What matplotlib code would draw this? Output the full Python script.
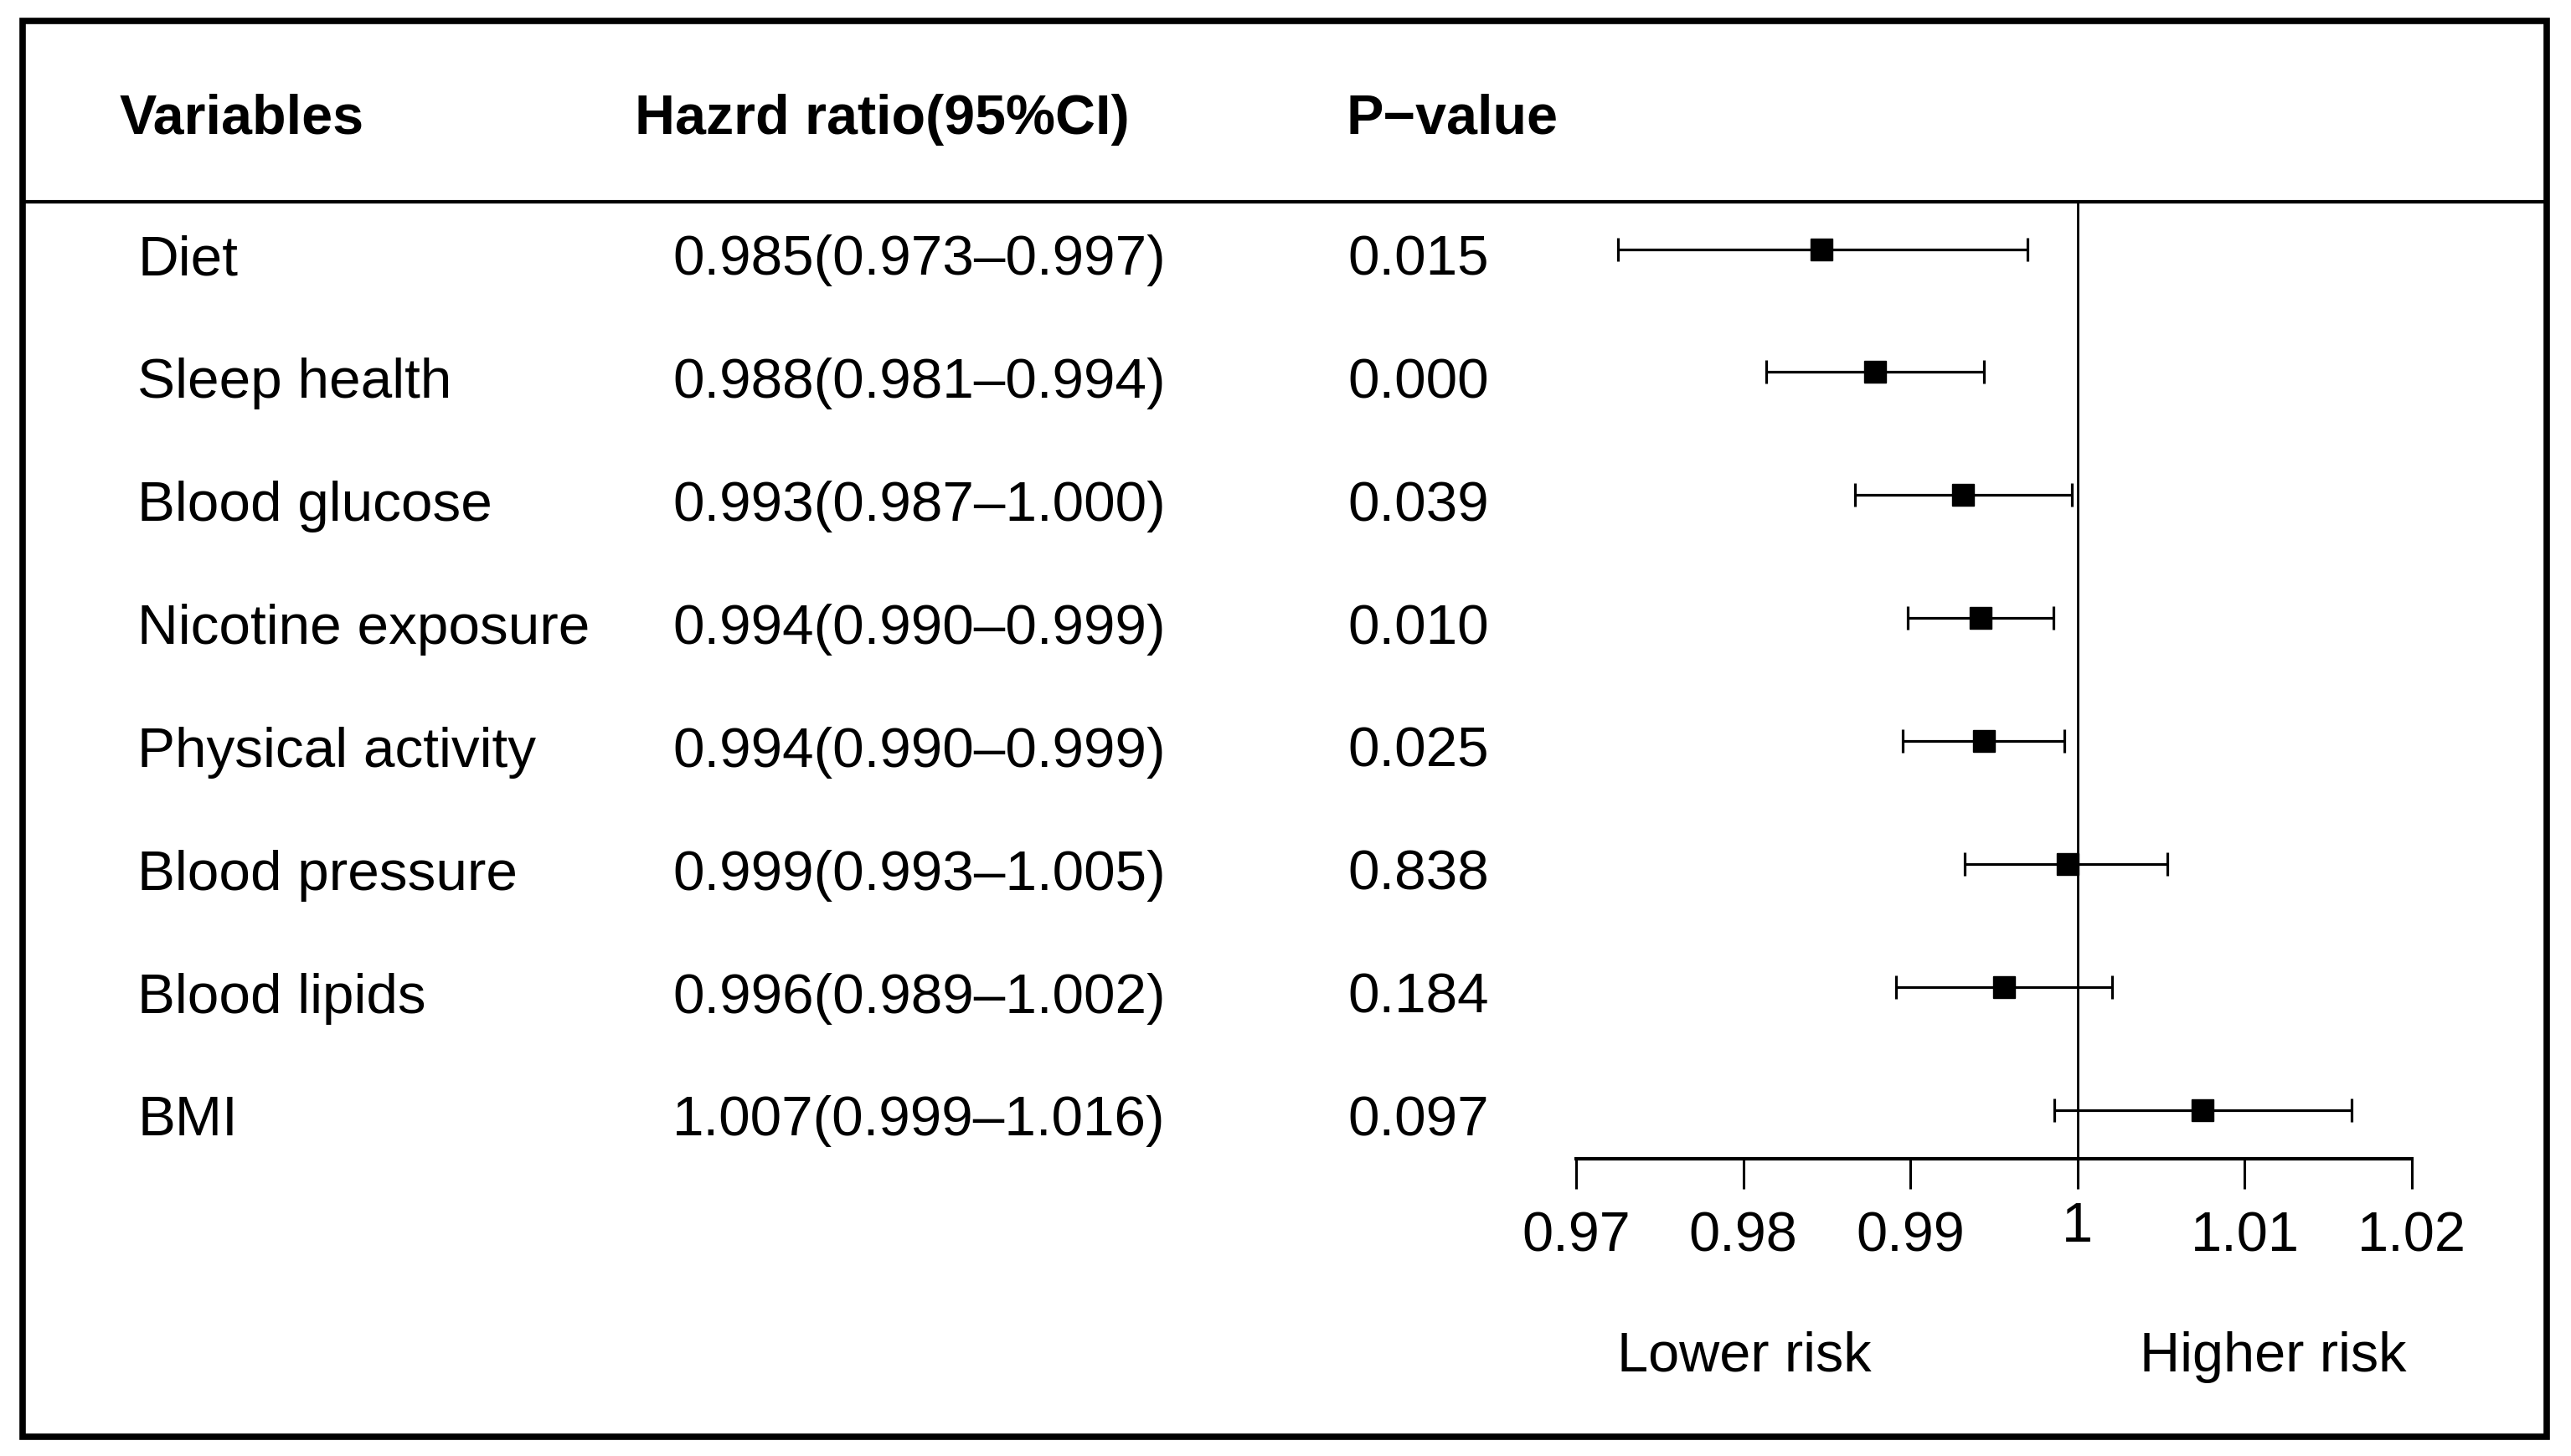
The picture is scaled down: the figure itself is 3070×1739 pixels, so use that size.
import matplotlib
matplotlib.use("Agg")
import matplotlib.pyplot as plt
import matplotlib.transforms as mtransforms
from matplotlib.lines import Line2D
from matplotlib.patches import Rectangle

plt.rcParams["font.family"] = ["Liberation Sans", "DejaVu Sans"]

# Cox regression results for each LE8 component
variables = ["Diet", "Sleep health", "Blood glucose", "Nicotine exposure",
             "Physical activity", "Blood pressure", "Blood lipids", "BMI"]
hr_text = ["0.985(0.973\u20130.997)", "0.988(0.981\u20130.994)", "0.993(0.987\u20131.000)",
           "0.994(0.990\u20130.999)", "0.994(0.990\u20130.999)", "0.999(0.993\u20131.005)",
           "0.996(0.989\u20131.002)", "1.007(0.999\u20131.016)"]
p_values = ["0.015", "0.000", "0.039", "0.010", "0.025", "0.838", "0.184", "0.097"]
# plotted (unrounded) estimates
hr = [0.98469, 0.98789, 0.99316, 0.99420, 0.99440, 0.99941, 0.99559, 1.00745]
ci_low = [0.97248, 0.98135, 0.98667, 0.98985, 0.98955, 0.99324, 0.98912, 0.99863]
ci_high = [0.99702, 0.99440, 0.99966, 0.99854, 0.99923, 1.00539, 1.00206, 1.01637]
ticks = [0.97, 0.98, 0.99, 1.00, 1.01, 1.02]
tick_labels = ["0.97", "0.98", "0.99", "1", "1.01", "1.02"]

W, H = 3070, 1739
fig = plt.figure(figsize=(W / 100, H / 100), dpi=100)

# forest axes: x 0.97..1.02 between px 1882 and 2880, y from separator to axis line
ax = fig.add_axes([1882 / W, 1 - 1384 / H, (2880 - 1882) / W, (1384 - 240) / H])
n = len(variables)
ypos = [n - i for i in range(n)]

xerr = [[h - lo for h, lo in zip(hr, ci_low)], [hi - h for h, hi in zip(hr, ci_high)]]
ax.errorbar(hr, ypos, xerr=xerr, fmt="s", color="black", ecolor="black",
            markersize=19, elinewidth=2.3, capsize=10, capthick=2.3)
ax.axvline(1, color="black", linewidth=2)

ax.set_xlim(0.97, 1.02)
ax.set_ylim(0.6025, 8.392)
ax.set_xticks(ticks)
ax.set_xticklabels(tick_labels)
ax.set_yticks([])
for s in ["top", "right", "left"]:
    ax.spines[s].set_visible(False)
ax.spines["bottom"].set_linewidth(3)
ax.tick_params(axis="x", length=26, width=2.2, pad=19, labelsize=48, colors="black")
ax.set_facecolor("none")

# raise the "1" label a little, as in the original
for lab in ax.get_xticklabels():
    if lab.get_text() == "1":
        lab.set_transform(lab.get_transform() +
                          mtransforms.ScaledTranslation(0, 8 / 72, fig.dpi_scale_trans))

# table text: x in figure fraction, y in data units of the forest axes
trans = mtransforms.blended_transform_factory(fig.transFigure, ax.transData)
fs = 48.6
for i, v in enumerate(variables):
    yb = ypos[i] - 0.21
    ax.text(164 / W, yb, v, transform=trans, fontsize=fs, va="baseline", ha="left")
    ax.text(803 / W, yb, hr_text[i], transform=trans, fontsize=fs, va="baseline", ha="left")
    ax.text(1609 / W, yb, p_values[i], transform=trans, fontsize=fs, va="baseline", ha="left")

# header
hy = 1 - 160 / H
hfs = 47.8
fig.text(143 / W, hy, "Variables", fontsize=hfs, fontweight="bold", va="baseline", ha="left")
fig.text(758 / W, hy, "Hazrd ratio(95%CI)", fontsize=hfs, fontweight="bold", va="baseline", ha="left")
fig.text(1608 / W, hy, "P\u2212value", fontsize=hfs, fontweight="bold", va="baseline", ha="left")

# risk direction labels
fig.text(2083 / W, 1 - 1638 / H, "Lower risk", fontsize=48, va="baseline", ha="center")
fig.text(2714 / W, 1 - 1638 / H, "Higher risk", fontsize=48, va="baseline", ha="center")

# frame and header separator
fig.add_artist(Rectangle((27 / W, 1 - 1716 / H), (3041 - 27) / W, (1716 - 25) / H,
                         transform=fig.transFigure, fill=False, edgecolor="black", linewidth=5.5))
fig.add_artist(Line2D([27 / W, 3041 / W], [1 - 241 / H, 1 - 241 / H],
                      transform=fig.transFigure, color="black", linewidth=3))

fig.savefig("out.png", dpi=100, facecolor="white")
